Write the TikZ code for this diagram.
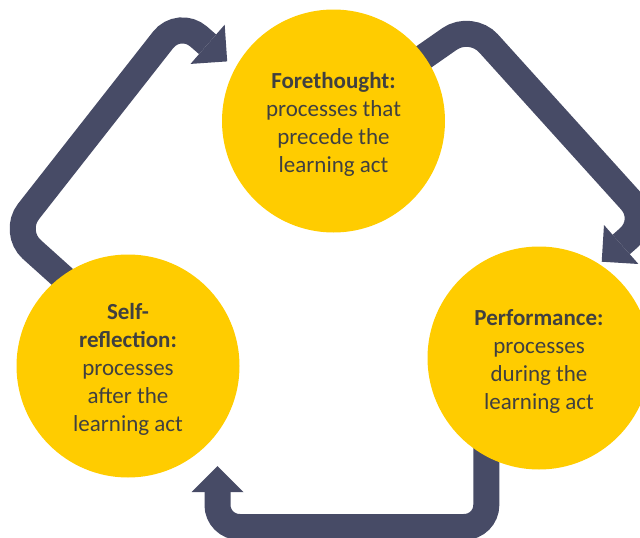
\documentclass[tikz,border=0pt]{standalone}
\usepackage{fontspec}
\setmainfont{Carlito}
\usetikzlibrary{arrows.meta,calc}
\definecolor{bandcol}{HTML}{474B66}
\definecolor{gold}{HTML}{FFCC00}
\definecolor{ink}{HTML}{404040}
\pgfdeclarelayer{bg}
\pgfsetlayers{bg,main}
\newcommand{\toppad}{\rule{0pt}{23pt}}
\begin{document}
\begin{tikzpicture}[x=1pt,y=-1pt,
  phase/.style={circle,fill=gold,inner sep=0pt,minimum size=223pt,text=ink,align=center,font=\fontsize{23}{28}\selectfont},
  bandline/.style={draw=bandcol,line width=26pt,line cap=butt,-{Triangle[length=26pt,width=52pt,line width=0pt]}}]
\useasboundingbox (0,0) rectangle (640,538);
\node[phase] (fore) at (333.5,121) {\toppad\textbf{Forethought:}\\processes that\\precede the\\learning act};
\node[phase] (perf) at (539,358) {\toppad\textbf{Performance:}\\processes\\during the\\learning act};
\node[phase] (self) at (128,366) {\toppad\textbf{Self-}\\\textbf{reflection:}\\processes\\after the\\learning act};
% connector coordinates
\coordinate (s1) at (76.7,289.8);
\coordinate (c1) at (12.4,232);
\coordinate (v1) at (179.1,19.5);
\coordinate (t1) at (227.2,61.4);
\coordinate (s2) at (405,70);
\coordinate (c2) at (471,24);
\coordinate (v2) at (648.5,220.4);
\coordinate (t2) at (601.7,261.7);
\coordinate (s3) at (486.3,430);
\coordinate (c3) at (486.3,527);
\coordinate (c4) at (217.5,527);
\coordinate (t3) at (217.5,466);
\begin{pgfonlayer}{bg}
\draw[bandline] (s1) [rounded corners=26pt] -- (c1) -- (v1) [rounded corners=37pt] -- (t1);
\draw[bandline] (s2) [rounded corners=26pt] -- (c2) -- (v2) [rounded corners=36pt] -- (t2);
\draw[bandline] (s3) [rounded corners=22pt] -- (c3) -- (c4) -- (t3);
\end{pgfonlayer}
\end{tikzpicture}
\end{document}
